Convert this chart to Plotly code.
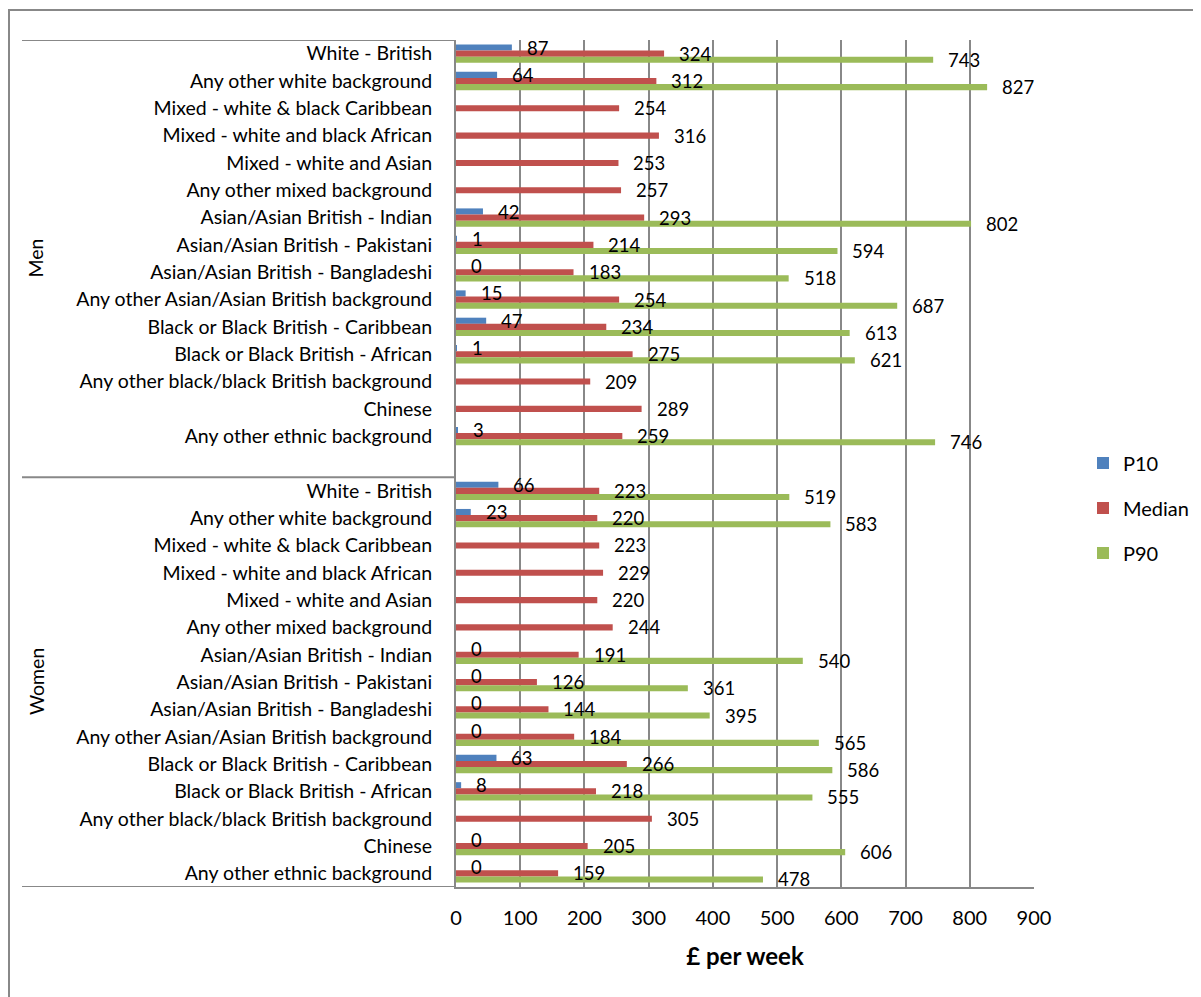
import plotly.graph_objects as go

categories = [
    "White - British",
    "Any other white background",
    "Mixed - white & black Caribbean",
    "Mixed - white and black African",
    "Mixed - white and Asian",
    "Any other mixed background",
    "Asian/Asian British - Indian",
    "Asian/Asian British - Pakistani",
    "Asian/Asian British - Bangladeshi",
    "Any other Asian/Asian British background",
    "Black or Black British - Caribbean",
    "Black or Black British - African",
    "Any other black/black British background",
    "Chinese",
    "Any other ethnic background",
]
groups = ["Men", "Women"]

men_p10 = [87, 64, None, None, None, None, 42, 1, 0, 15, 47, 1, None, None, 3]
men_median = [324, 312, 254, 316, 253, 257, 293, 214, 183, 254, 234, 275, 209, 289, 259]
men_p90 = [743, 827, None, None, None, None, 802, 594, 518, 687, 613, 621, None, None, 746]

women_p10 = [66, 23, None, None, None, None, 0, 0, 0, 0, 63, 8, None, 0, 0]
women_median = [223, 220, 223, 229, 220, 244, 191, 126, 144, 184, 266, 218, 305, 205, 159]
women_p90 = [519, 583, None, None, None, None, 540, 361, 395, 565, 586, 555, None, 606, 478]

series_names = ["P10", "Median", "P90"]
colors = ["#4F81BD", "#C0504D", "#9BBB59"]

FONT = "Lato"
n = len(categories)
# men rows 0..14, one blank row (15), women rows 16..30
men_pos = list(range(n))
women_pos = [n + 1 + i for i in range(n)]
ypos = men_pos + women_pos

series = [
    men_p10 + women_p10,
    men_median + women_median,
    men_p90 + women_p90,
]

W, H = 1193, 989
L, T, R, B = 448, 32, 167, 110
PW = W - L - R
PH = H - T - B

fig = go.Figure()
for i, (name, vals, col) in enumerate(zip(series_names, series, colors)):
    fig.add_trace(go.Bar(
        x=vals, y=ypos, orientation="h", name=name,
        marker=dict(color=col, line=dict(width=0)),
        legendgroup=name,
    ))

# value labels
shifts = [6.1, 0, -6.1]
for s, vals in enumerate(series):
    for y, v in zip(ypos, vals):
        if v is None:
            continue
        fig.add_annotation(
            x=v, y=y, xref="x", yref="y", text=str(v), showarrow=False,
            xanchor="left", yanchor="middle", xshift=13, yshift=shifts[s],
            font=dict(family=FONT, size=18.5, color="#000000"),
        )

gray = "#888888"
# group labels
for g, center in zip(groups, [(-0.5 + n + 0.5) / 2, (n + 0.5 + 2 * n + 0.5) / 2]):
    fig.add_annotation(
        x=(28 - L) / PW, y=center, xref="paper", yref="y", text=g, showarrow=False,
        textangle=-90, font=dict(family=FONT, size=19.5, color="#000000"),
        xanchor="center", yanchor="middle",
    )

# group divider lines
for yl in [-0.5, n + 0.5, 2 * n + 0.5]:
    fig.add_shape(type="line", xref="paper", yref="y", x0=(14 - L) / PW, x1=0, y0=yl, y1=yl,
                  line=dict(color=gray, width=2))

# outer chart border (cropped at right/bottom)
fig.add_shape(type="rect", xref="paper", yref="paper",
              x0=(1 - L) / PW, x1=3, y0=-2, y1=(T + PH - 2) / PH,
              line=dict(color=gray, width=2), fillcolor="rgba(0,0,0,0)")

fig.update_layout(
    width=W, height=H,
    margin=dict(l=L, r=R, t=T, b=B, autoexpand=False),
    paper_bgcolor="white", plot_bgcolor="white",
    barmode="group", bargap=0.327, bargroupgap=0,
    font=dict(family=FONT, color="#000000"),
    legend=dict(
        x=(1083 - 8 - L) / PW, y=(PH + T - (508 - 8)) / PH, xanchor="left", yanchor="middle",
        font=dict(family=FONT, size=20), tracegroupgap=16,
        bgcolor="rgba(0,0,0,0)",
    ),
    xaxis=dict(
        range=[0, 900], dtick=100, tick0=0,
        showgrid=True, gridcolor=gray, gridwidth=2,
        showline=True, linecolor=gray, linewidth=2,
        zeroline=False, ticks="", ticklabelstandoff=12,
        tickfont=dict(family=FONT, size=20),
        title=dict(text="<b>£ per week</b>", font=dict(family=FONT, size=24), standoff=20),
    ),
    yaxis=dict(
        range=[2 * n + 0.5, -0.5], autorange=False,
        tickmode="array", tickvals=ypos, ticktext=categories + categories,
        showgrid=False, zeroline=False,
        showline=True, linecolor=gray, linewidth=2,
        ticks="", ticklabelstandoff=18,
        tickfont=dict(family=FONT, size=19.5),
    ),
)

fig.write_html("out.html")
